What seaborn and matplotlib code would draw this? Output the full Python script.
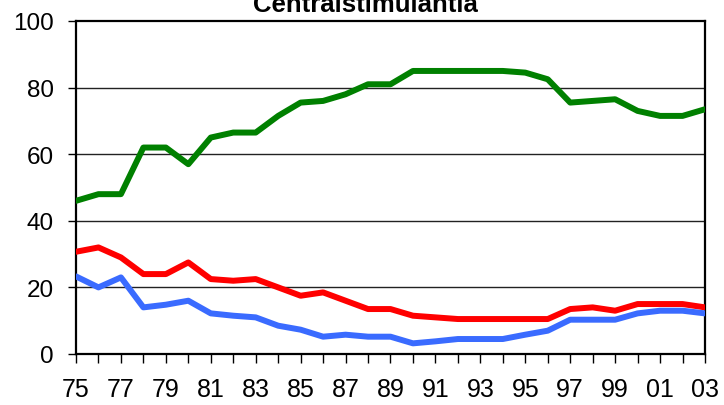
import pandas as pd
import seaborn as sns
import matplotlib.pyplot as plt
from matplotlib.ticker import MultipleLocator

# 数据
years = ["75", "76", "77", "78", "79", "80", "81", "82", "83", "84",
         "85", "86", "87", "88", "89", "90", "91", "92", "93", "94",
         "95", "96", "97", "98", "99", "00", "01", "02", "03"]
green_vals = [46, 48, 48, 62, 62, 57, 65, 66.5, 66.5, 71.5,
              75.5, 76, 78, 81, 81, 85, 85, 85, 85, 85,
              84.5, 82.5, 75.5, 76, 76.5, 73, 71.5, 71.5, 73.5]
red_vals = [30.7, 32, 29, 24, 24, 27.5, 22.5, 22, 22.5, 20,
            17.5, 18.5, 16, 13.5, 13.5, 11.5, 11, 10.5, 10.5, 10.5,
            10.5, 10.5, 13.5, 14, 13, 15, 15, 15, 14]
blue_vals = [23.3, 20, 23, 14, 14.8, 16, 12.2, 11.5, 11, 8.5,
             7.3, 5.2, 5.8, 5.2, 5.2, 3.2, 3.8, 4.5, 4.5, 4.5,
             5.8, 7, 10.3, 10.3, 10.3, 12.2, 13, 13, 12.2]
series_names = ["green", "red", "blue"]
colors = {"green": "#008000", "red": "#FF0000", "blue": "#3A6BFF"}
title = "Centralstimulantia"

rows = []
for name, vals in zip(series_names, [green_vals, red_vals, blue_vals]):
    for i, v in enumerate(vals):
        rows.append({"x": i, "value": v, "serie": name})
df = pd.DataFrame(rows)

sns.set_style("white")
plt.rcParams['font.family'] = ['Liberation Sans', 'DejaVu Sans']
plt.rcParams['text.color'] = 'black'
plt.rcParams['xtick.color'] = 'black'
plt.rcParams['ytick.color'] = 'black'

fig = plt.figure(figsize=(7.24, 4.06), dpi=100)
ax = fig.add_axes([76 / 724, 1 - 355 / 406, 629 / 724, 333 / 406])

# 横向网格线
for y in [20, 40, 60, 80]:
    ax.axhline(y, color="#222222", lw=1, zorder=0)

sns.lineplot(data=df, x="x", y="value", hue="serie", palette=colors,
             linewidth=4.3, legend=False, ax=ax, zorder=3)

ax.set_xlim(0, len(years) - 1)
ax.set_ylim(0, 100)
ax.set_xlabel("")
ax.set_ylabel("")

ax.xaxis.set_major_locator(MultipleLocator(2))
ax.xaxis.set_minor_locator(MultipleLocator(1))
ax.set_xticklabels([years[int(t)] if 0 <= int(t) < len(years) else "" for t in ax.get_xticks()])
ax.set_yticks([0, 20, 40, 60, 80, 100])

ax.tick_params(axis="x", which="both", direction="out", length=6.5, width=1,
               color="black", labelcolor="black", labelsize=18, pad=10, bottom=True)
ax.tick_params(axis="y", direction="out", length=6, width=1, color="black",
               labelcolor="black", labelsize=17.5, pad=10, left=True)

for sp in ax.spines.values():
    sp.set_color("black")
    sp.set_linewidth(1.6)
    sp.set_visible(True)

fig.text(365 / 724, 1 - 12 / 406, title, ha="center", va="baseline",
         fontsize=18.5, fontweight="bold", color="black")

fig.savefig("out.png", dpi=100)
